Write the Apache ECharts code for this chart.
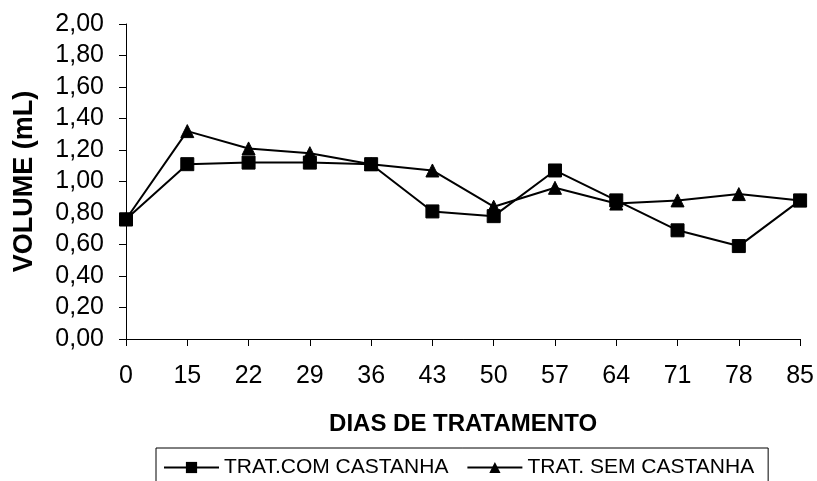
<!DOCTYPE html>
<html>
<head>
<meta charset="utf-8">
<script src="https://cdn.jsdelivr.net/npm/echarts@6/dist/echarts.min.js"></script>
<style>
  html, body { margin: 0; padding: 0; background: #fff; }
  #chart { width: 817px; height: 481px; }
</style>
</head>
<body>
<div id="chart"></div>
<script>
const dias = ["0", "15", "22", "29", "36", "43", "50", "57", "64", "71", "78", "85"];
const comCastanha = [0.76, 1.11, 1.12, 1.12, 1.11, 0.81, 0.78, 1.07, 0.88, 0.69, 0.59, 0.88];
const semCastanha = [0.76, 1.32, 1.21, 1.18, 1.11, 1.07, 0.84, 0.96, 0.86, 0.88, 0.92, 0.88];

const font = "Arial, 'Liberation Sans', sans-serif";
const chart = echarts.init(document.getElementById("chart"), null, { renderer: "canvas" });

const option = {
  backgroundColor: "#fff",
  animation: false,
  grid: {
    left: 126,
    right: 16,
    top: 24,
    bottom: 142,
  },
  legend: {
    data: ["TRAT.COM CASTANHA", "TRAT. SEM CASTANHA"],
    left: 156,
    top: 448,
    orient: "horizontal",
    itemWidth: 55,
    itemHeight: 14,
    itemGap: 18,
    padding: [9, 14, 12, 7],
    borderColor: "#000",
    borderWidth: 1,
    borderRadius: 0,
    textStyle: {
      color: "#000",
      fontSize: 21,
      fontFamily: font,
    },
  },
  xAxis: {
    type: "category",
    data: dias,
    boundaryGap: false,
    name: "DIAS DE TRATAMENTO",
    nameLocation: "middle",
    nameGap: 73,
    nameTextStyle: {
      color: "#000",
      fontSize: 24,
      fontWeight: "bold",
      fontFamily: font,
    },
    axisLine: { lineStyle: { color: "#000", width: 1 } },
    axisTick: { alignWithLabel: true, length: 7, lineStyle: { color: "#000" } },
    axisLabel: {
      color: "#000",
      fontSize: 25,
      fontFamily: font,
      margin: 25,
    },
    splitLine: { show: false },
  },
  yAxis: {
    type: "value",
    min: 0,
    max: 2,
    interval: 0.2,
    name: "VOLUME (mL)",
    nameLocation: "middle",
    nameRotate: 90,
    nameGap: 88,
    nameTextStyle: {
      color: "#000",
      fontSize: 27,
      fontWeight: "bold",
      fontFamily: font,
    },
    axisLine: { show: true, lineStyle: { color: "#000", width: 1 } },
    axisTick: { show: true, length: 7, lineStyle: { color: "#000" } },
    axisLabel: {
      color: "#000",
      fontSize: 25,
      fontFamily: font,
      margin: 22,
      formatter: (v) => v.toFixed(2).replace(".", ","),
    },
    splitLine: { show: false },
  },
  series: [
    {
      name: "TRAT. SEM CASTANHA",
      type: "line",
      data: semCastanha,
      z: 2,
      symbol: "triangle",
      symbolSize: 13,
      showAllSymbol: true,
      lineStyle: { color: "#000", width: 2 },
      itemStyle: { color: "#000", borderColor: "#000" },
    },
    {
      name: "TRAT.COM CASTANHA",
      type: "line",
      data: comCastanha,
      z: 3,
      symbol: "rect",
      symbolSize: 13,
      showAllSymbol: true,
      lineStyle: { color: "#000", width: 2 },
      itemStyle: { color: "#000", borderColor: "#000" },
    },
  ],
};

chart.setOption(option);
</script>
</body>
</html>
